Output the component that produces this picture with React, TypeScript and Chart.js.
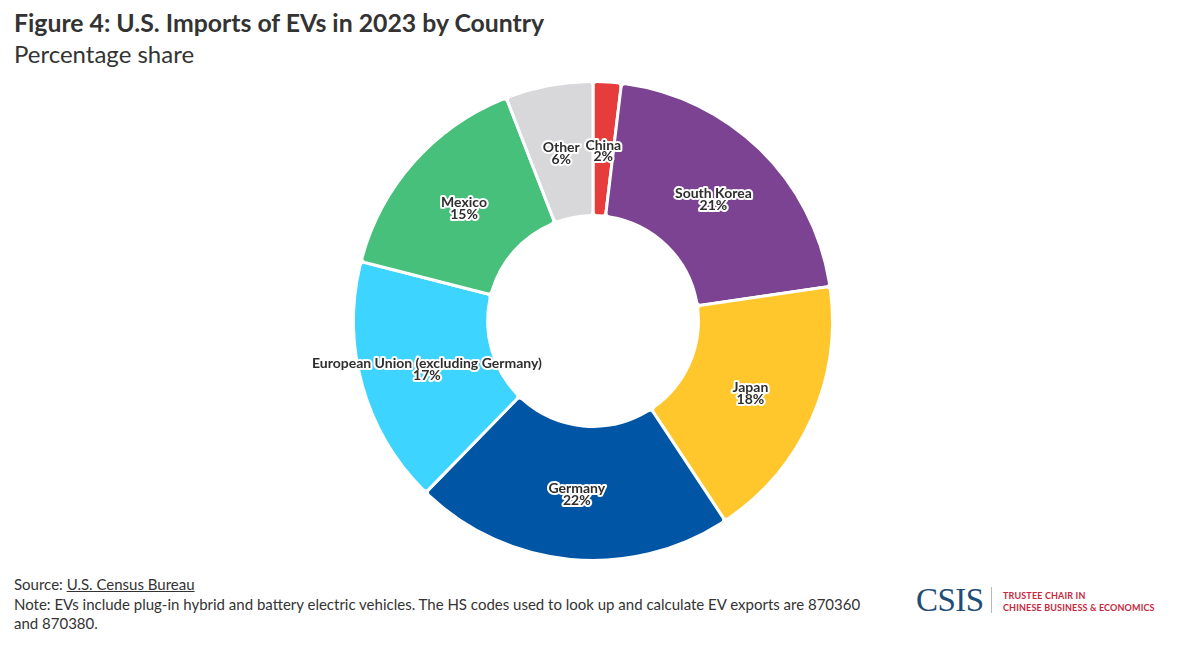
import React, { useEffect, useRef } from 'react';
import { Chart, registerables } from 'chart.js';

Chart.register(...registerables);

const categories = [
  'China',
  'South Korea',
  'Japan',
  'Germany',
  'European Union (excluding Germany)',
  'Mexico',
  'Other',
];
const shares = [1.9, 20.8, 18.0, 21.6, 16.7, 15.1, 5.9];
const sliceColors = ['#E63C3C', '#7B4391', '#FFC72C', '#0055A4', '#3DD5FF', '#46C07A', '#D8D8DA'];

const FONT = 'Lato, "Noto Sans", sans-serif';

const labelPlugin = {
  id: 'sliceLabels',
  afterDatasetsDraw(chart: any) {
    const ctx = chart.ctx;
    const meta = chart.getDatasetMeta(0);
    const data = chart.data.datasets[0].data as number[];
    ctx.save();
    ctx.font = 'bold 14px ' + FONT;
    ctx.textAlign = 'center';
    ctx.textBaseline = 'middle';
    ctx.lineJoin = 'round';
    meta.data.forEach((arc: any, i: number) => {
      const p = arc.tooltipPosition();
      const lines = [String(chart.data.labels[i]), Math.round(data[i]) + '%'];
      lines.forEach((t, j) => {
        const y = p.y + 2 + (j - 0.5) * 11.5;
        ctx.lineWidth = 4;
        ctx.strokeStyle = '#ffffff';
        ctx.strokeText(t, p.x, y);
      });
      lines.forEach((t, j) => {
        const y = p.y + 2 + (j - 0.5) * 11.5;
        ctx.fillStyle = '#2e2e2e';
        ctx.fillText(t, p.x, y);
      });
    });
    ctx.restore();
  },
};

export default function App() {
  const canvasRef = useRef<HTMLCanvasElement | null>(null);

  useEffect(() => {
    document.body.style.margin = '0';
    const chart = new Chart(canvasRef.current as HTMLCanvasElement, {
      type: 'doughnut',
      data: {
        labels: categories,
        datasets: [
          {
            data: shares,
            backgroundColor: sliceColors,
            borderColor: '#ffffff',
            borderWidth: 3,
            borderRadius: 4,
          },
        ],
      },
      options: {
        animation: false,
        responsive: false,
        maintainAspectRatio: false,
        cutout: '44%',
        layout: { padding: 0 },
        plugins: {
          legend: { display: false },
          tooltip: { enabled: false },
        },
      },
      plugins: [labelPlugin],
    });
    return () => chart.destroy();
  }, []);

  return (
    <div
      style={{
        position: 'absolute',
        left: 0,
        top: 0,
        width: 1198,
        height: 646,
        background: '#ffffff',
        fontFamily: FONT,
        color: '#333333',
        overflow: 'hidden',
      }}
    >
      <div style={{ position: 'absolute', left: 14, top: 8, fontSize: 24.8, lineHeight: '29px', fontWeight: 700, whiteSpace: 'nowrap' }}>
        Figure 4: U.S. Imports of EVs in 2023 by Country
      </div>
      <div style={{ position: 'absolute', left: 14, top: 39, fontSize: 24, lineHeight: '29px', fontWeight: 400, whiteSpace: 'nowrap' }}>
        Percentage share
      </div>
      <canvas
        ref={canvasRef}
        width={1198}
        height={482}
        style={{ position: 'absolute', left: -6, top: 80, width: 1198, height: 482 }}
      />
      <div style={{ position: 'absolute', left: 14, top: 575, fontSize: 15, lineHeight: '19.5px', whiteSpace: 'nowrap' }}>
        <div>
          Source: <span style={{ textDecoration: 'underline' }}>U.S. Census Bureau</span>
        </div>
        <div>
          Note: EVs include plug-in hybrid and battery electric vehicles. The HS codes used to look up and calculate EV exports are 870360
        </div>
        <div>and 870380.</div>
      </div>
      <div
        style={{
          position: 'absolute',
          left: 916,
          top: 582,
          fontFamily: '"Liberation Serif", "DejaVu Serif", serif',
          fontSize: 33,
          lineHeight: '36px',
          color: '#1E4D78',
          letterSpacing: '-0.5px',
        }}
      >
        CSIS
      </div>
      <div style={{ position: 'absolute', left: 991, top: 587, width: 1, height: 26, background: '#b8b8b8' }} />
      <div
        style={{
          position: 'absolute',
          left: 1003,
          top: 590,
          fontSize: 9,
          lineHeight: '12px',
          fontWeight: 700,
          color: '#C8283E',
          letterSpacing: '0.15px',
          whiteSpace: 'nowrap',
        }}
      >
        <div>TRUSTEE CHAIR IN</div>
        <div>CHINESE BUSINESS &amp; ECONOMICS</div>
      </div>
    </div>
  );
}
